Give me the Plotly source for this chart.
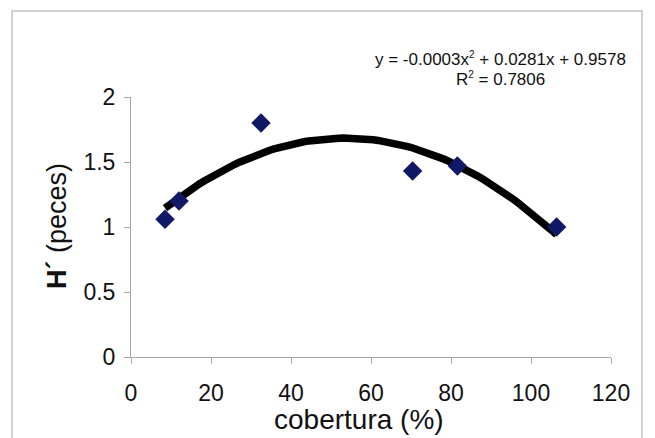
import numpy as np
import plotly.graph_objects as go

cobertura = [8.5, 12.0, 32.5, 70.4, 81.6, 106.4]
h_peces = [1.06, 1.20, 1.80, 1.43, 1.47, 1.00]
x_ticks = [0, 20, 40, 60, 80, 100, 120]
y_ticks = [0, 0.5, 1, 1.5, 2]
eq_line = "y = -0.0003x<sup><span style='font-size:10px'>2</span></sup> + 0.0281x + 0.9578"
r2_line = "R<sup><span style='font-size:10px'>2</span></sup> = 0.7806"

coef = np.polyfit(cobertura, h_peces, 2)
xf = np.linspace(min(cobertura), max(cobertura), 80)
yf = np.polyval(coef, xf)

fig = go.Figure()
fig.add_trace(go.Scatter(x=xf, y=yf, mode="lines",
                         line=dict(color="black", width=7.5), hoverinfo="skip"))
fig.add_trace(go.Scatter(x=cobertura, y=h_peces, mode="markers",
                         marker=dict(symbol="diamond", size=15, color="#111865")))

FONT = "Liberation Sans, Arial, sans-serif"
tick_font = dict(family=FONT, size=23, color="#111")
# page body has 8px margin; plot area target: x 131-611, y 97-357 on screen
fig.update_layout(
    width=655, height=438,
    margin=dict(l=123, r=52, t=89, b=89),
    paper_bgcolor="white", plot_bgcolor="white",
    showlegend=False,
    font=dict(family=FONT, color="#111"),
    xaxis=dict(range=[0, 120], tickvals=x_ticks, showgrid=False, zeroline=False,
               showline=True, linecolor="#a8a8a8", linewidth=1,
               ticks="outside", ticklen=6, tickcolor="#a8a8a8",
               tickfont=tick_font, ticklabelstandoff=9),
    yaxis=dict(range=[0, 2], tickvals=y_ticks, showgrid=False, zeroline=False,
               showline=True, linecolor="#a8a8a8", linewidth=1,
               ticks="outside", ticklen=6, tickcolor="#a8a8a8",
               tickfont=tick_font, ticklabelstandoff=4),
)
fig.add_annotation(xref="paper", yref="paper", x=(500 - 131) / 480, y=1 + (97 - 59) / 260,
                   xanchor="center", yanchor="middle", showarrow=False,
                   text=eq_line, font=dict(family=FONT, size=17, color="#111"))
fig.add_annotation(xref="paper", yref="paper", x=(500 - 131) / 480, y=1 + (97 - 79) / 260,
                   xanchor="center", yanchor="middle", showarrow=False,
                   text=r2_line, font=dict(family=FONT, size=17, color="#111"))
fig.add_annotation(xref="paper", yref="paper", x=(359 - 131) / 480, y=-(419 - 357) / 260,
                   xanchor="center", yanchor="middle", showarrow=False,
                   text="cobertura (%)", font=dict(family=FONT, size=28, color="#111"))
fig.add_annotation(xref="paper", yref="paper", x=(57 - 131) / 480, y=(357 - 226) / 260,
                   xanchor="center", yanchor="middle", showarrow=False, textangle=-90,
                   text="<b>H´</b> (peces)", font=dict(family=FONT, size=27, color="#111"))
fig.add_shape(type="rect", xref="paper", yref="paper",
              x0=(12 - 131) / 480, x1=(642 - 131) / 480,
              y0=-(445 - 357) / 260, y1=1 + (97 - 11) / 260,
              line=dict(color="#c4c4c4", width=1.5))

fig.write_html("out.html")
